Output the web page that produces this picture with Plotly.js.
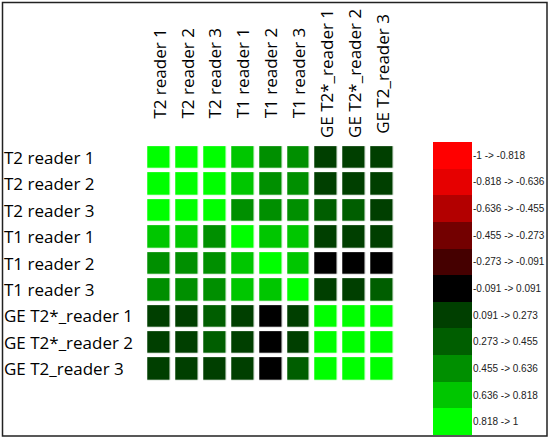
<!DOCTYPE html>
<html>
<head>
<meta charset="utf-8">
<script src="https://cdn.plot.ly/plotly-3.0.1.min.js"></script>
<style>
  html, body { margin: 0; padding: 0; background: #fff; }
  #chart { width: 550px; height: 438px; }
</style>
</head>
<body>
<div id="chart"></div>
<script>
// ---- data ----
const categories = ["T2 reader 1", "T2 reader 2", "T2 reader 3", "T1 reader 1", "T1 reader 2", "T1 reader 3",
                    "GE T2*_reader 1", "GE T2*_reader 2", "GE T2_reader 3"];
const rowT2r1  = [1.00, 0.93, 0.90, 0.74, 0.58, 0.56, 0.19, 0.17, 0.15];
const rowT2r2  = [0.93, 1.00, 0.92, 0.72, 0.57, 0.55, 0.18, 0.16, 0.14];
const rowT2r3  = [0.90, 0.92, 1.00, 0.62, 0.56, 0.54, 0.30, 0.29, 0.22];
const rowT1r1  = [0.74, 0.72, 0.62, 1.00, 0.74, 0.73, 0.16, 0.15, 0.13];
const rowT1r2  = [0.58, 0.57, 0.56, 0.74, 1.00, 0.70, 0.03, 0.02, 0.01];
const rowT1r3  = [0.56, 0.55, 0.54, 0.73, 0.70, 1.00, 0.24, 0.22, 0.31];
const rowGEr1  = [0.19, 0.18, 0.30, 0.16, 0.03, 0.24, 1.00, 0.95, 0.92];
const rowGEr2  = [0.17, 0.16, 0.29, 0.15, 0.02, 0.22, 0.95, 1.00, 0.93];
const rowGE2r3 = [0.15, 0.14, 0.22, 0.13, 0.01, 0.31, 0.92, 0.93, 1.00];

const legendLabels = ["-1 -> -0.818", "-0.818 -> -0.636", "-0.636 -> -0.455", "-0.455 -> -0.273",
                      "-0.273 -> -0.091", "-0.091 -> 0.091", "0.091 -> 0.273", "0.273 -> 0.455",
                      "0.455 -> 0.636", "0.636 -> 0.818", "0.818 -> 1"];
const legendValues = [-0.909, -0.727, -0.545, -0.364, -0.182, 0, 0.182, 0.364, 0.545, 0.727, 0.909];
const binColors = ["#ff0000", "#e60000", "#b30000", "#730000", "#450000", "#000000",
                   "#003f00", "#005e00", "#008f00", "#00c600", "#00ff00"];

// ---- build ----
const z = [rowT2r1, rowT2r2, rowT2r3, rowT1r1, rowT1r2, rowT1r3, rowGEr1, rowGEr2, rowGE2r3];
const n = binColors.length;
const colorscale = [];
binColors.forEach((c, i) => { colorscale.push([i / n, c]); colorscale.push([(i + 1) / n, c]); });

// plot-area geometry helpers (pixels -> paper)
const W = 550, H = 438;
const M = {l: 145, r: 78, t: 142, b: 3};
const pw = W - M.l - M.r, ph = H - M.t - M.b;
const px2x = p => (p - M.l) / pw;
const py2y = p => (H - M.b - p) / ph;

const heat = {
  type: 'heatmap', x: categories, y: categories, z: z,
  zmin: -1, zmax: 1, colorscale: colorscale, showscale: false,
  xgap: 5.6, ygap: 4.3, xaxis: 'x', yaxis: 'y', hoverinfo: 'skip'
};
const legend = {
  type: 'heatmap', x: ['k'], y: legendLabels, z: legendValues.map(v => [v]),
  zmin: -1, zmax: 1, colorscale: colorscale, showscale: false,
  xaxis: 'x2', yaxis: 'y2', hoverinfo: 'skip'
};

const annotations = [];
categories.forEach(c => {
  annotations.push({
    xref: 'paper', yref: 'y', x: px2x(2), y: c, text: c, showarrow: false,
    xanchor: 'left', yanchor: 'middle',
    font: {family: 'Open Sans, sans-serif', size: 17, color: '#000'}
  });
  annotations.push({
    xref: 'x', yref: 'paper', x: c, y: py2y(73.5), text: c, showarrow: false,
    textangle: -90, xanchor: 'center', yanchor: 'middle',
    font: {family: 'Open Sans, sans-serif', size: 17, color: '#000'}
  });
});

const layout = {
  width: W, height: H, margin: M,
  paper_bgcolor: '#fff', plot_bgcolor: '#fff', showlegend: false,
  xaxis: {domain: [px2x(145.2), px2x(396.3)], showticklabels: false, ticks: '', showgrid: false,
          zeroline: false, showline: false, type: 'category', fixedrange: true},
  yaxis: {domain: [py2y(382.2), py2y(143.8)], autorange: 'reversed', showticklabels: false, ticks: '',
          showgrid: false, zeroline: false, showline: false, type: 'category', fixedrange: true},
  xaxis2: {domain: [px2x(433), px2x(472)], anchor: 'y2', showticklabels: false, ticks: '',
           showgrid: false, zeroline: false, showline: false, fixedrange: true},
  yaxis2: {domain: [0, 1], anchor: 'x2', side: 'right', autorange: 'reversed', type: 'category',
           ticks: '', showgrid: false, zeroline: false, showline: false, fixedrange: true,
           tickfont: {family: 'Liberation Sans, Arial, sans-serif', size: 10, color: '#222'}},
  annotations: annotations,
  shapes: [{type: 'rect', xref: 'paper', yref: 'paper',
            x0: px2x(2.5), x1: px2x(547), y0: py2y(436), y1: py2y(2.5),
            line: {color: '#222', width: 1.5}, fillcolor: 'rgba(0,0,0,0)', layer: 'above'}]
};

Plotly.newPlot('chart', [heat, legend], layout, {displayModeBar: false, staticPlot: true});
</script>
</body>
</html>
